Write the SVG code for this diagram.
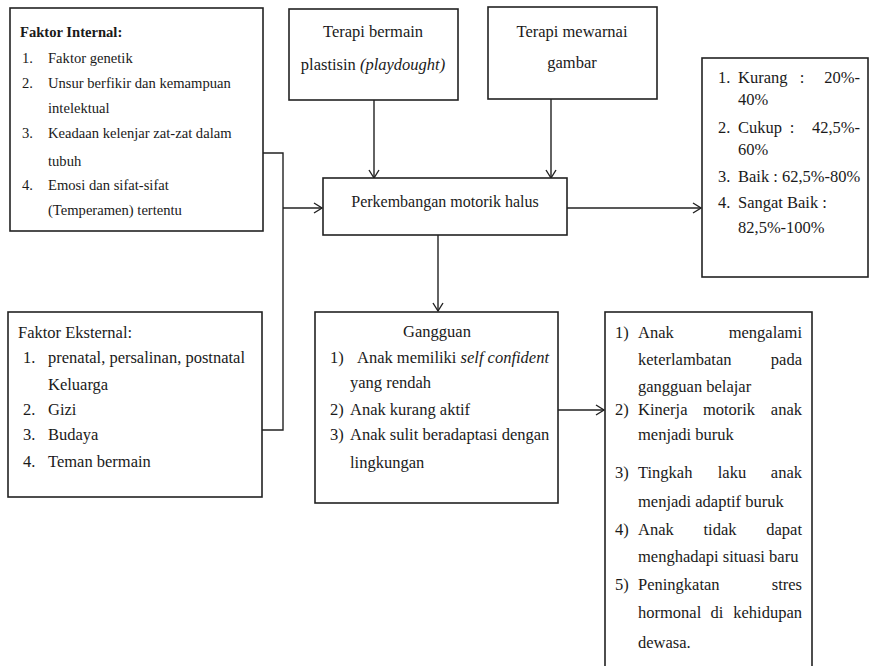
<svg xmlns="http://www.w3.org/2000/svg" width="870" height="666" viewBox="0 0 870 666" font-family="'Liberation Serif', 'Times New Roman', serif">
<style>
.box{fill:#fff;stroke:#222;stroke-width:1.6}
text{font-family:'Liberation Serif','Times New Roman',serif;font-size:16.5px;fill:#1a1a1a}
.s{font-size:14.6px}
.p{font-size:16px}
.b{font-weight:bold}
.m{text-anchor:middle}
.e{text-anchor:end}
.i{font-style:italic}
.c{fill:none;stroke:#222;stroke-width:1.4}
</style>
<defs>
<marker id="arr" markerUnits="userSpaceOnUse" markerWidth="12" markerHeight="12" refX="9" refY="6" orient="auto">
<path d="M1,1 L9,6 L1,11" fill="none" stroke="#222" stroke-width="1.4"/>
</marker>
</defs>
<rect width="870" height="666" fill="#fff"/>

<g id="connectors">
<polyline class="c" points="263,153 283,153 283,430 262,430"/>
<line class="c" x1="283" y1="208" x2="322" y2="208" marker-end="url(#arr)"/>
<line class="c" x1="374" y1="100" x2="374" y2="178" marker-end="url(#arr)"/>
<line class="c" x1="551" y1="99" x2="551" y2="178" marker-end="url(#arr)"/>
<line class="c" x1="567" y1="208" x2="701" y2="208" marker-end="url(#arr)"/>
<line class="c" x1="438" y1="235" x2="438" y2="311" marker-end="url(#arr)"/>
<line class="c" x1="558" y1="410" x2="604" y2="410" marker-end="url(#arr)"/>
</g>

<g id="faktor-internal">
<rect class="box" x="10" y="8" width="253" height="223"/>
<text class="s b" x="20" y="37">Faktor Internal:</text>
<text class="s" x="22" y="63">1.</text><text class="s" x="48" y="63">Faktor genetik</text>
<text class="s" x="22" y="88">2.</text><text class="s" x="48" y="88">Unsur berfikir dan kemampuan</text>
<text class="s" x="48" y="113">intelektual</text>
<text class="s" x="22" y="138">3.</text><text class="s" x="48" y="138">Keadaan kelenjar zat-zat dalam</text>
<text class="s" x="48" y="166">tubuh</text>
<text class="s" x="22" y="190">4.</text><text class="s" x="48" y="190">Emosi dan sifat-sifat</text>
<text class="s" x="48" y="215">(Temperamen) tertentu</text>
</g>

<g id="faktor-eksternal">
<rect class="box" x="8" y="312" width="254" height="185"/>
<text x="18" y="338">Faktor Eksternal:</text>
<text x="23" y="363">1.</text><text x="48" y="363">prenatal, persalinan, postnatal</text>
<text x="48" y="390">Keluarga</text>
<text x="23" y="415">2.</text><text x="48" y="415">Gizi</text>
<text x="23" y="440">3.</text><text x="48" y="440">Budaya</text>
<text x="23" y="467">4.</text><text x="48" y="467">Teman bermain</text>
</g>

<g id="terapi-plastisin">
<rect class="box" x="289" y="9" width="169" height="91"/>
<text class="m" x="373" y="37">Terapi bermain</text>
<text class="m" x="373" y="70">plastisin <tspan class="i">(playdought)</tspan></text>
</g>

<g id="terapi-mewarnai">
<rect class="box" x="488" y="7" width="169" height="92"/>
<text class="m" x="572" y="37">Terapi mewarnai</text>
<text class="m" x="572" y="68">gambar</text>
</g>

<g id="perkembangan">
<rect class="box" x="323" y="178" width="244" height="57"/>
<text class="m p" x="445" y="207">Perkembangan motorik halus</text>
</g>

<g id="kategori">
<rect class="box" x="702" y="58" width="166" height="219"/>
<text x="718" y="83">1.</text><text x="738" y="83">Kurang</text><text class="m" x="802" y="83">:</text><text class="e" x="860" y="83">20%-</text>
<text x="738" y="105">40%</text>
<text x="718" y="133">2.</text><text x="738" y="133">Cukup</text><text class="m" x="792" y="133">:</text><text class="e" x="860" y="133">42,5%-</text>
<text x="738" y="155">60%</text>
<text x="718" y="182">3.</text><text x="738" y="182">Baik : 62,5%-80%</text>
<text x="718" y="208">4.</text><text x="738" y="208">Sangat Baik :</text>
<text x="738" y="233">82,5%-100%</text>
</g>

<g id="gangguan">
<rect class="box" x="315" y="312" width="243" height="191"/>
<text class="m" x="437" y="337">Gangguan</text>
<text x="330" y="363">1)</text><text x="357" y="363">Anak memiliki <tspan class="i">self confident</tspan></text>
<text x="350" y="388">yang rendah</text>
<text x="330" y="415">2)</text><text x="350" y="415">Anak kurang aktif</text>
<text x="330" y="440">3)</text><text x="350" y="440">Anak sulit beradaptasi dengan</text>
<text x="350" y="468">lingkungan</text>
</g>

<g id="dampak">
<rect class="box" x="605" y="312" width="207" height="370"/>
<text x="615" y="338">1)</text><text x="638" y="338">Anak</text><text class="e" x="802" y="338">mengalami</text>
<text x="638" y="365">keterlambatan</text><text class="e" x="802" y="365">pada</text>
<text x="638" y="392">gangguan belajar</text>
<text x="615" y="415">2)</text><text x="638" y="415">Kinerja</text><text class="m" x="729" y="415">motorik</text><text class="e" x="802" y="415">anak</text>
<text x="638" y="440">menjadi buruk</text>
<text x="615" y="478">3)</text><text x="638" y="478">Tingkah</text><text class="m" x="732" y="478">laku</text><text class="e" x="802" y="478">anak</text>
<text x="638" y="507">menjadi adaptif buruk</text>
<text x="615" y="535">4)</text><text x="638" y="535">Anak</text><text class="m" x="720" y="535">tidak</text><text class="e" x="802" y="535">dapat</text>
<text x="638" y="562">menghadapi situasi baru</text>
<text x="615" y="590">5)</text><text x="638" y="590">Peningkatan</text><text class="e" x="802" y="590">stres</text>
<text x="638" y="618">hormonal</text><text class="m" x="717" y="618">di</text><text class="e" x="802" y="618">kehidupan</text>
<text x="638" y="648">dewasa.</text>
</g>
</svg>
